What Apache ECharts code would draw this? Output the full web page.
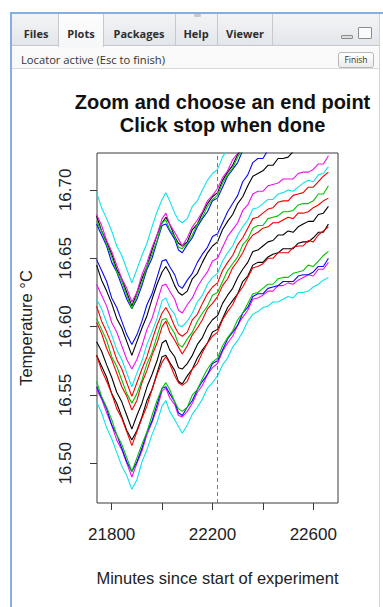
<!DOCTYPE html>
<html>
<head>
<meta charset="utf-8">
<script src="https://cdn.jsdelivr.net/npm/echarts@6.0.0/dist/echarts.min.js"></script>
<style>
html,body{margin:0;padding:0;width:383px;height:607px;overflow:hidden;background:#fff;}
.abs{position:absolute;box-sizing:border-box;}
#topline{left:10px;top:12px;width:373px;height:2px;background:#86aee0;}
#leftline{left:10px;top:12px;width:2px;height:595px;background:#86aee0;}
#rightline{left:379px;top:14px;width:1px;height:593px;background:#d2d2d2;}
#grip{left:194px;top:14px;width:7px;height:3px;background:#c8c8c8;border-radius:1px;}
#tabbar{left:12px;top:14px;width:367px;height:32px;background:linear-gradient(#f3f4f6,#e3e6ea);border-bottom:1px solid #c3c7cc;}
.sep{top:14px;width:1px;height:31px;background:#c6cacf;}
#seltab{left:58px;top:14px;width:46px;height:33px;background:linear-gradient(#fdfdfd,#f6f7f8);border-left:1px solid #c6cacf;border-right:1px solid #c6cacf;}
.tab{top:26px;height:16px;line-height:16px;font-family:"Open Sans",sans-serif;font-weight:bold;font-size:11px;color:#2e2e2e;text-align:center;white-space:nowrap;}
#toolbar{left:12px;top:47px;width:367px;height:22px;background:#f9f9f9;border-bottom:1px solid #d8d8d8;}
#loc{left:21px;top:52px;height:16px;line-height:16px;font-family:"Open Sans",sans-serif;font-size:11.2px;color:#333;white-space:nowrap;}
#finish{left:338px;top:52px;width:36px;height:16px;border:1px solid #b8b8b8;border-radius:3px;background:linear-gradient(#ffffff,#ececec);font-family:"Open Sans",sans-serif;font-size:8.5px;line-height:14px;text-align:center;color:#333;}
#minim{left:341px;top:35px;width:12px;height:4px;border:1px solid #8c8c8c;border-radius:1px;background:#dcdcdc;}
#maxim{left:358px;top:27px;width:14px;height:12px;border:1px solid #8c8c8c;border-radius:1px;background:#fafafa;}
#chart{position:absolute;left:0;top:0;width:383px;height:607px;}
</style>
</head>
<body>
<div class="abs" id="tabbar"></div>
<div class="abs" id="seltab"></div>
<div class="abs sep" style="left:58px"></div>
<div class="abs sep" style="left:103px"></div>
<div class="abs sep" style="left:175px"></div>
<div class="abs sep" style="left:217px"></div>
<div class="abs sep" style="left:272px"></div>
<div class="abs tab" style="left:15px;width:42px">Files</div>
<div class="abs tab" style="left:59px;width:44px">Plots</div>
<div class="abs tab" style="left:104px;width:70px">Packages</div>
<div class="abs tab" style="left:176px;width:40px">Help</div>
<div class="abs tab" style="left:218px;width:54px">Viewer</div>
<div class="abs" id="minim"></div>
<div class="abs" id="maxim"></div>
<div class="abs" id="toolbar"></div>
<div class="abs" id="loc">Locator active (Esc to finish)</div>
<div class="abs" id="finish">Finish</div>
<div class="abs" id="topline"></div>
<div class="abs" id="leftline"></div>
<div class="abs" id="rightline"></div>
<div class="abs" id="grip"></div>
<div id="chart"></div>
<script>
// ---- data ----
const minutes = [21740,21760,21780,21800,21820,21840,21860,21880,21900,21920,21940,21960,21980,22000,22015,22030,22050,22065,22080,22100,22120,22140,22160,22180,22200,22220,22240,22260,22280,22300,22320,22340,22360,22380,22400,22420,22440,22460,22480,22500,22520,22540,22560,22580,22600,22620,22640,22660];
const xTicks = [21800,22000,22200,22400,22600];
const xTickLabels = [21800,22200,22600];
const yTicks = [16.50,16.55,16.60,16.65,16.70];
const locatorMinute = 22220;

const cyanTop = [16.698,16.687,16.679,16.670,16.659,16.652,16.642,16.632,16.642,16.652,16.661,16.673,16.684,16.693,16.698,16.692,16.683,16.678,16.676,16.679,16.688,16.692,16.700,16.707,16.712,16.715,16.724,16.730];
const magentaB = [16.682,16.674,16.663,16.655,16.645,16.635,16.628,16.618,16.625,16.638,16.647,16.658,16.667,16.679,16.683,16.675,16.669,16.664,16.659,16.665,16.673,16.678,16.684,16.692,16.696,16.701,16.709,16.714,16.722,16.727,16.733];
const greenB = [16.677,16.670,16.660,16.651,16.640,16.633,16.623,16.613,16.623,16.632,16.644,16.653,16.663,16.676,16.678,16.671,16.666,16.658,16.657,16.661,16.667,16.675,16.680,16.688,16.693,16.696,16.705,16.711,16.716,16.724,16.730];
const blackB = [16.681,16.670,16.662,16.653,16.642,16.635,16.625,16.615,16.625,16.635,16.644,16.656,16.667,16.676,16.680,16.675,16.666,16.661,16.659,16.662,16.671,16.675,16.683,16.690,16.695,16.698,16.707,16.713,16.718,16.726,16.731];
const blueB = [16.675,16.667,16.659,16.647,16.640,16.630,16.620,16.613,16.620,16.630,16.642,16.650,16.662,16.674,16.675,16.670,16.664,16.656,16.654,16.660,16.665,16.673,16.679,16.684,16.692,16.694,16.702,16.710,16.715,16.720,16.729];
const blueC = [16.649,16.641,16.633,16.621,16.614,16.604,16.594,16.587,16.594,16.604,16.616,16.624,16.636,16.648,16.649,16.644,16.638,16.630,16.628,16.634,16.639,16.647,16.653,16.658,16.666,16.668,16.676,16.684,16.690,16.696,16.706,16.711,16.720,16.723,16.723,16.729];
const blackD = [16.645,16.634,16.626,16.617,16.606,16.599,16.589,16.579,16.589,16.599,16.608,16.620,16.631,16.640,16.644,16.639,16.630,16.625,16.623,16.626,16.635,16.639,16.647,16.654,16.659,16.662,16.671,16.677,16.682,16.690,16.695,16.703,16.710,16.712,16.714,16.718,16.718,16.723,16.723,16.724,16.728,16.730];
const magentaE = [16.631,16.623,16.615,16.603,16.596,16.586,16.576,16.569,16.576,16.586,16.598,16.606,16.618,16.630,16.631,16.626,16.620,16.612,16.610,16.616,16.621,16.629,16.635,16.640,16.648,16.650,16.658,16.666,16.671,16.676,16.685,16.689,16.697,16.699,16.699,16.703,16.704,16.705,16.708,16.708,16.708,16.712,16.713,16.713,16.715,16.719,16.719,16.725];
const cyanF = [16.620,16.613,16.603,16.594,16.583,16.576,16.566,16.556,16.566,16.575,16.587,16.596,16.606,16.619,16.621,16.614,16.609,16.601,16.600,16.604,16.610,16.618,16.623,16.631,16.636,16.639,16.648,16.654,16.659,16.667,16.673,16.678,16.686,16.687,16.690,16.693,16.693,16.697,16.698,16.700,16.699,16.702,16.705,16.707,16.706,16.711,16.712,16.717];
const redG = [16.615,16.604,16.596,16.587,16.576,16.569,16.559,16.549,16.559,16.569,16.578,16.590,16.601,16.610,16.614,16.609,16.600,16.595,16.593,16.596,16.605,16.609,16.617,16.624,16.629,16.632,16.641,16.647,16.652,16.660,16.665,16.672,16.679,16.680,16.683,16.686,16.687,16.691,16.692,16.692,16.696,16.697,16.698,16.702,16.702,16.706,16.710,16.713];
const greenH = [16.606,16.598,16.590,16.578,16.571,16.561,16.551,16.544,16.551,16.561,16.573,16.581,16.593,16.605,16.606,16.601,16.595,16.587,16.585,16.591,16.596,16.604,16.610,16.615,16.623,16.625,16.633,16.641,16.646,16.651,16.660,16.664,16.672,16.674,16.674,16.679,16.680,16.681,16.684,16.684,16.685,16.689,16.690,16.690,16.692,16.697,16.697,16.703];
const redI = [16.603,16.595,16.584,16.576,16.566,16.556,16.549,16.539,16.546,16.559,16.568,16.579,16.588,16.600,16.604,16.596,16.590,16.585,16.580,16.586,16.594,16.599,16.605,16.613,16.617,16.622,16.630,16.635,16.643,16.648,16.654,16.662,16.667,16.669,16.672,16.673,16.676,16.676,16.678,16.680,16.679,16.683,16.683,16.684,16.687,16.689,16.692,16.694];
const blackJ = [16.589,16.582,16.572,16.563,16.552,16.545,16.535,16.525,16.535,16.544,16.556,16.565,16.575,16.588,16.590,16.583,16.578,16.570,16.569,16.573,16.579,16.587,16.592,16.600,16.605,16.608,16.617,16.623,16.628,16.636,16.642,16.647,16.655,16.656,16.659,16.662,16.663,16.667,16.667,16.670,16.669,16.673,16.675,16.677,16.677,16.682,16.683,16.688];
const redK = [16.579,16.568,16.560,16.551,16.540,16.533,16.523,16.513,16.523,16.533,16.542,16.554,16.565,16.574,16.578,16.573,16.564,16.559,16.557,16.560,16.569,16.573,16.581,16.588,16.593,16.596,16.605,16.611,16.616,16.624,16.629,16.636,16.643,16.644,16.646,16.650,16.650,16.654,16.654,16.654,16.658,16.659,16.659,16.663,16.662,16.667,16.670,16.673];
const blackK = [16.579,16.571,16.563,16.551,16.544,16.534,16.524,16.517,16.524,16.534,16.546,16.554,16.566,16.578,16.579,16.574,16.568,16.560,16.558,16.564,16.569,16.577,16.583,16.588,16.596,16.598,16.606,16.614,16.619,16.624,16.633,16.637,16.645,16.647,16.647,16.651,16.653,16.654,16.657,16.657,16.657,16.661,16.662,16.662,16.665,16.669,16.669,16.675];
const greenL = [16.560,16.549,16.541,16.532,16.521,16.514,16.504,16.494,16.504,16.514,16.523,16.535,16.546,16.555,16.559,16.554,16.545,16.540,16.538,16.541,16.550,16.554,16.562,16.569,16.574,16.577,16.586,16.592,16.597,16.605,16.610,16.617,16.624,16.625,16.628,16.631,16.631,16.635,16.636,16.636,16.639,16.640,16.641,16.645,16.644,16.648,16.652,16.655];
const blueL = [16.556,16.548,16.540,16.528,16.521,16.511,16.501,16.494,16.501,16.511,16.523,16.531,16.543,16.555,16.556,16.551,16.545,16.537,16.535,16.541,16.546,16.554,16.560,16.565,16.573,16.575,16.583,16.591,16.596,16.601,16.610,16.614,16.622,16.624,16.624,16.628,16.629,16.630,16.633,16.633,16.633,16.637,16.638,16.638,16.640,16.644,16.644,16.650];
const magentaL = [16.554,16.547,16.537,16.528,16.517,16.510,16.500,16.490,16.500,16.509,16.521,16.530,16.540,16.553,16.555,16.548,16.543,16.535,16.534,16.538,16.544,16.552,16.557,16.565,16.570,16.573,16.582,16.588,16.593,16.601,16.607,16.612,16.620,16.621,16.623,16.626,16.626,16.630,16.630,16.632,16.631,16.634,16.636,16.638,16.637,16.642,16.642,16.647];
const cyanM = [16.545,16.537,16.526,16.518,16.508,16.498,16.491,16.481,16.488,16.501,16.510,16.521,16.530,16.542,16.546,16.538,16.532,16.527,16.522,16.528,16.536,16.541,16.547,16.555,16.559,16.564,16.572,16.577,16.585,16.590,16.596,16.604,16.609,16.611,16.614,16.615,16.618,16.618,16.620,16.622,16.621,16.625,16.625,16.626,16.629,16.631,16.634,16.636];

// ---- drawing ----
const C = {black:'#000000', red:'#f00000', green:'#00c400', blue:'#0a0af0', cyan:'#10e2ea', magenta:'#ee10ee'};
const lines = [
  [cyanM,'cyan'],[magentaL,'magenta'],[blueL,'blue'],[greenL,'green'],
  [blackK,'black'],[redK,'red'],[blackJ,'black'],[redI,'red'],[greenH,'green'],
  [redG,'red'],[cyanF,'cyan'],[magentaE,'magenta'],[blackD,'black'],[blueC,'blue'],
  [blueB,'blue'],[blackB,'black'],[greenB,'green'],[magentaB,'magenta'],[cyanTop,'cyan']
];
const FONT = '"Liberation Sans", Arial, sans-serif';
const series = lines.map(([vals, col]) => ({
  type: 'line',
  data: vals.map((v, i) => [minutes[i], v]),
  symbol: 'none',
  clip: true,
  lineStyle: {color: C[col], width: 1.1},
  silent: true,
  z: 2
}));
series[0].markLine = {
  silent: true, symbol: ['none','none'], label: {show: false},
  lineStyle: {color: '#7a7a7a', type: [4,3], width: 1},
  data: [{xAxis: locatorMinute}]
};

const chart = echarts.init(document.getElementById('chart'), null, {renderer: 'svg'});
chart.setOption({
  animation: false,
  backgroundColor: 'transparent',
  title: {
    text: 'Zoom and choose an end point\nClick stop when done',
    left: 217.5, top: 85, textAlign: 'center',
    textStyle: {fontFamily: FONT, fontSize: 20, fontWeight: 'bold', lineHeight: 23, color: '#111'}
  },
  grid: {left: 97, top: 153, width: 241, height: 350, show: true, borderColor: '#3a3a3a', borderWidth: 1, backgroundColor: 'transparent'},
  xAxis: {
    type: 'value', min: 21741.7, max: 22698,
    axisLine: {show: false},
    splitLine: {show: false},
    axisTick: {show: true, inside: false, length: 7, lineStyle: {color: '#3a3a3a', width: 1}, customValues: xTicks},
    axisLabel: {show: true, customValues: xTickLabels, formatter: v => String(Math.round(v)), fontFamily: FONT, fontSize: 17, color: '#222', margin: 23},
    name: 'Minutes since start of experiment', nameLocation: 'middle', nameGap: 66,
    nameTextStyle: {fontFamily: FONT, fontSize: 16.5, color: '#222'}
  },
  yAxis: {
    type: 'value', min: 16.471, max: 16.727,
    axisLine: {show: false},
    splitLine: {show: false},
    axisTick: {show: true, inside: false, length: 7, lineStyle: {color: '#3a3a3a', width: 1}, customValues: yTicks},
    axisLabel: {show: true, customValues: yTicks, rotate: 90, formatter: v => Number(v).toFixed(2), fontFamily: FONT, fontSize: 17, color: '#222', margin: 23},
    name: 'Temperature °C', nameLocation: 'middle', nameRotate: 90, nameGap: 63,
    nameTextStyle: {fontFamily: FONT, fontSize: 16.5, color: '#222'}
  },
  series: series
});
</script>
</body>
</html>
